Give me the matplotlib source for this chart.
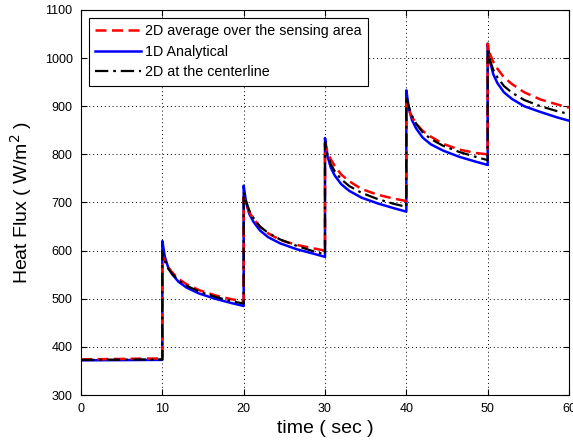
import matplotlib
matplotlib.use("Agg")
import matplotlib.pyplot as plt
import numpy as np

plt.rcParams['font.family'] = ['Liberation Sans', 'DejaVu Sans']

# time offsets within each heating step (s)
step_starts = [10, 20, 30, 40, 50]
step_dt = [0, 0.3, 0.7, 1.2, 2, 3, 4.5, 6.5, 8.5, 10]

# initial (pre-step) values, t = 0 and t = 10
base_red = [374, 376]
base_blue = [372, 373]
base_black = [373, 374]

# 2D average over the sensing area
red_steps = [
    [590, 578, 566, 555, 541, 530, 518, 507, 499, 495],
    [710, 695, 680, 666, 650, 636, 622, 612, 605, 600],
    [822, 805, 790, 776, 758, 744, 728, 716, 708, 703],
    [905, 893, 878, 864, 849, 837, 822, 810, 803, 800],
    [1030, 1008, 992, 978, 960, 946, 929, 914, 904, 897],
]
# 1D Analytical
blue_steps = [
    [620, 588, 566, 551, 535, 523, 511, 500, 491, 485],
    [735, 700, 676, 660, 642, 628, 615, 603, 594, 587],
    [834, 797, 773, 756, 738, 724, 710, 698, 688, 681],
    [933, 896, 871, 854, 835, 821, 808, 795, 785, 778],
    [1030, 992, 966, 948, 929, 915, 900, 888, 877, 870],
]
# 2D at the centerline
black_steps = [
    [598, 580, 563, 552, 538, 527, 515, 504, 495, 490],
    [722, 703, 683, 668, 650, 637, 623, 610, 599, 592],
    [825, 800, 780, 765, 748, 734, 720, 707, 697, 691],
    [920, 900, 880, 864, 846, 832, 818, 805, 795, 788],
    [1020, 995, 975, 960, 942, 928, 913, 900, 890, 884],
]

labels = ['2D average over the sensing area', '1D Analytical', '2D at the centerline']


def build(base, steps):
    t = [0, step_starts[0]]
    v = list(base)
    for s, vals in zip(step_starts, steps):
        t += [s + d for d in step_dt]
        v += vals
    return np.array(t), np.array(v)


fig = plt.figure(figsize=(5.73, 4.44), dpi=100)
ax = fig.add_axes([81 / 573, 49 / 444, 488 / 573, 385 / 444])

tr, vr = build(base_red, red_steps)
tb, vb = build(base_blue, blue_steps)
tk, vk = build(base_black, black_steps)

ax.plot(tr, vr, color='red', lw=1.8, ls=(0, (4.4, 2.2)), label=labels[0], zorder=3)
ax.plot(tb, vb, color='#0000ff', lw=1.8, ls='-', label=labels[1], zorder=2)
ax.plot(tk, vk, color='black', lw=1.6, ls=(0, (6, 2.2, 1.2, 2.2)), label=labels[2], zorder=4)

ax.set_xlim(0, 60)
ax.set_ylim(300, 1100)
ax.set_xticks(np.arange(0, 61, 10))
ax.set_yticks(np.arange(300, 1101, 100))
ax.grid(True, color='black', ls=(0, (1, 3)), lw=0.7)
ax.tick_params(direction='in', top=True, right=True, labelsize=9, length=4, width=0.8, pad=6)
for sp in ax.spines.values():
    sp.set_linewidth(0.8)

ax.set_xlabel('time ( sec )', fontsize=14, labelpad=3)
ax.set_ylabel('Heat Flux ( W/m$^2$ )', fontsize=14, labelpad=8)

leg = ax.legend(loc='upper left', fontsize=10.3, frameon=True, fancybox=False,
                edgecolor='black', framealpha=1, handlelength=3.2, handletextpad=0.25,
                borderaxespad=0.55, labelspacing=0.45, borderpad=0.45)
leg.get_frame().set_linewidth(0.8)

fig.savefig('out.png', dpi=100)
